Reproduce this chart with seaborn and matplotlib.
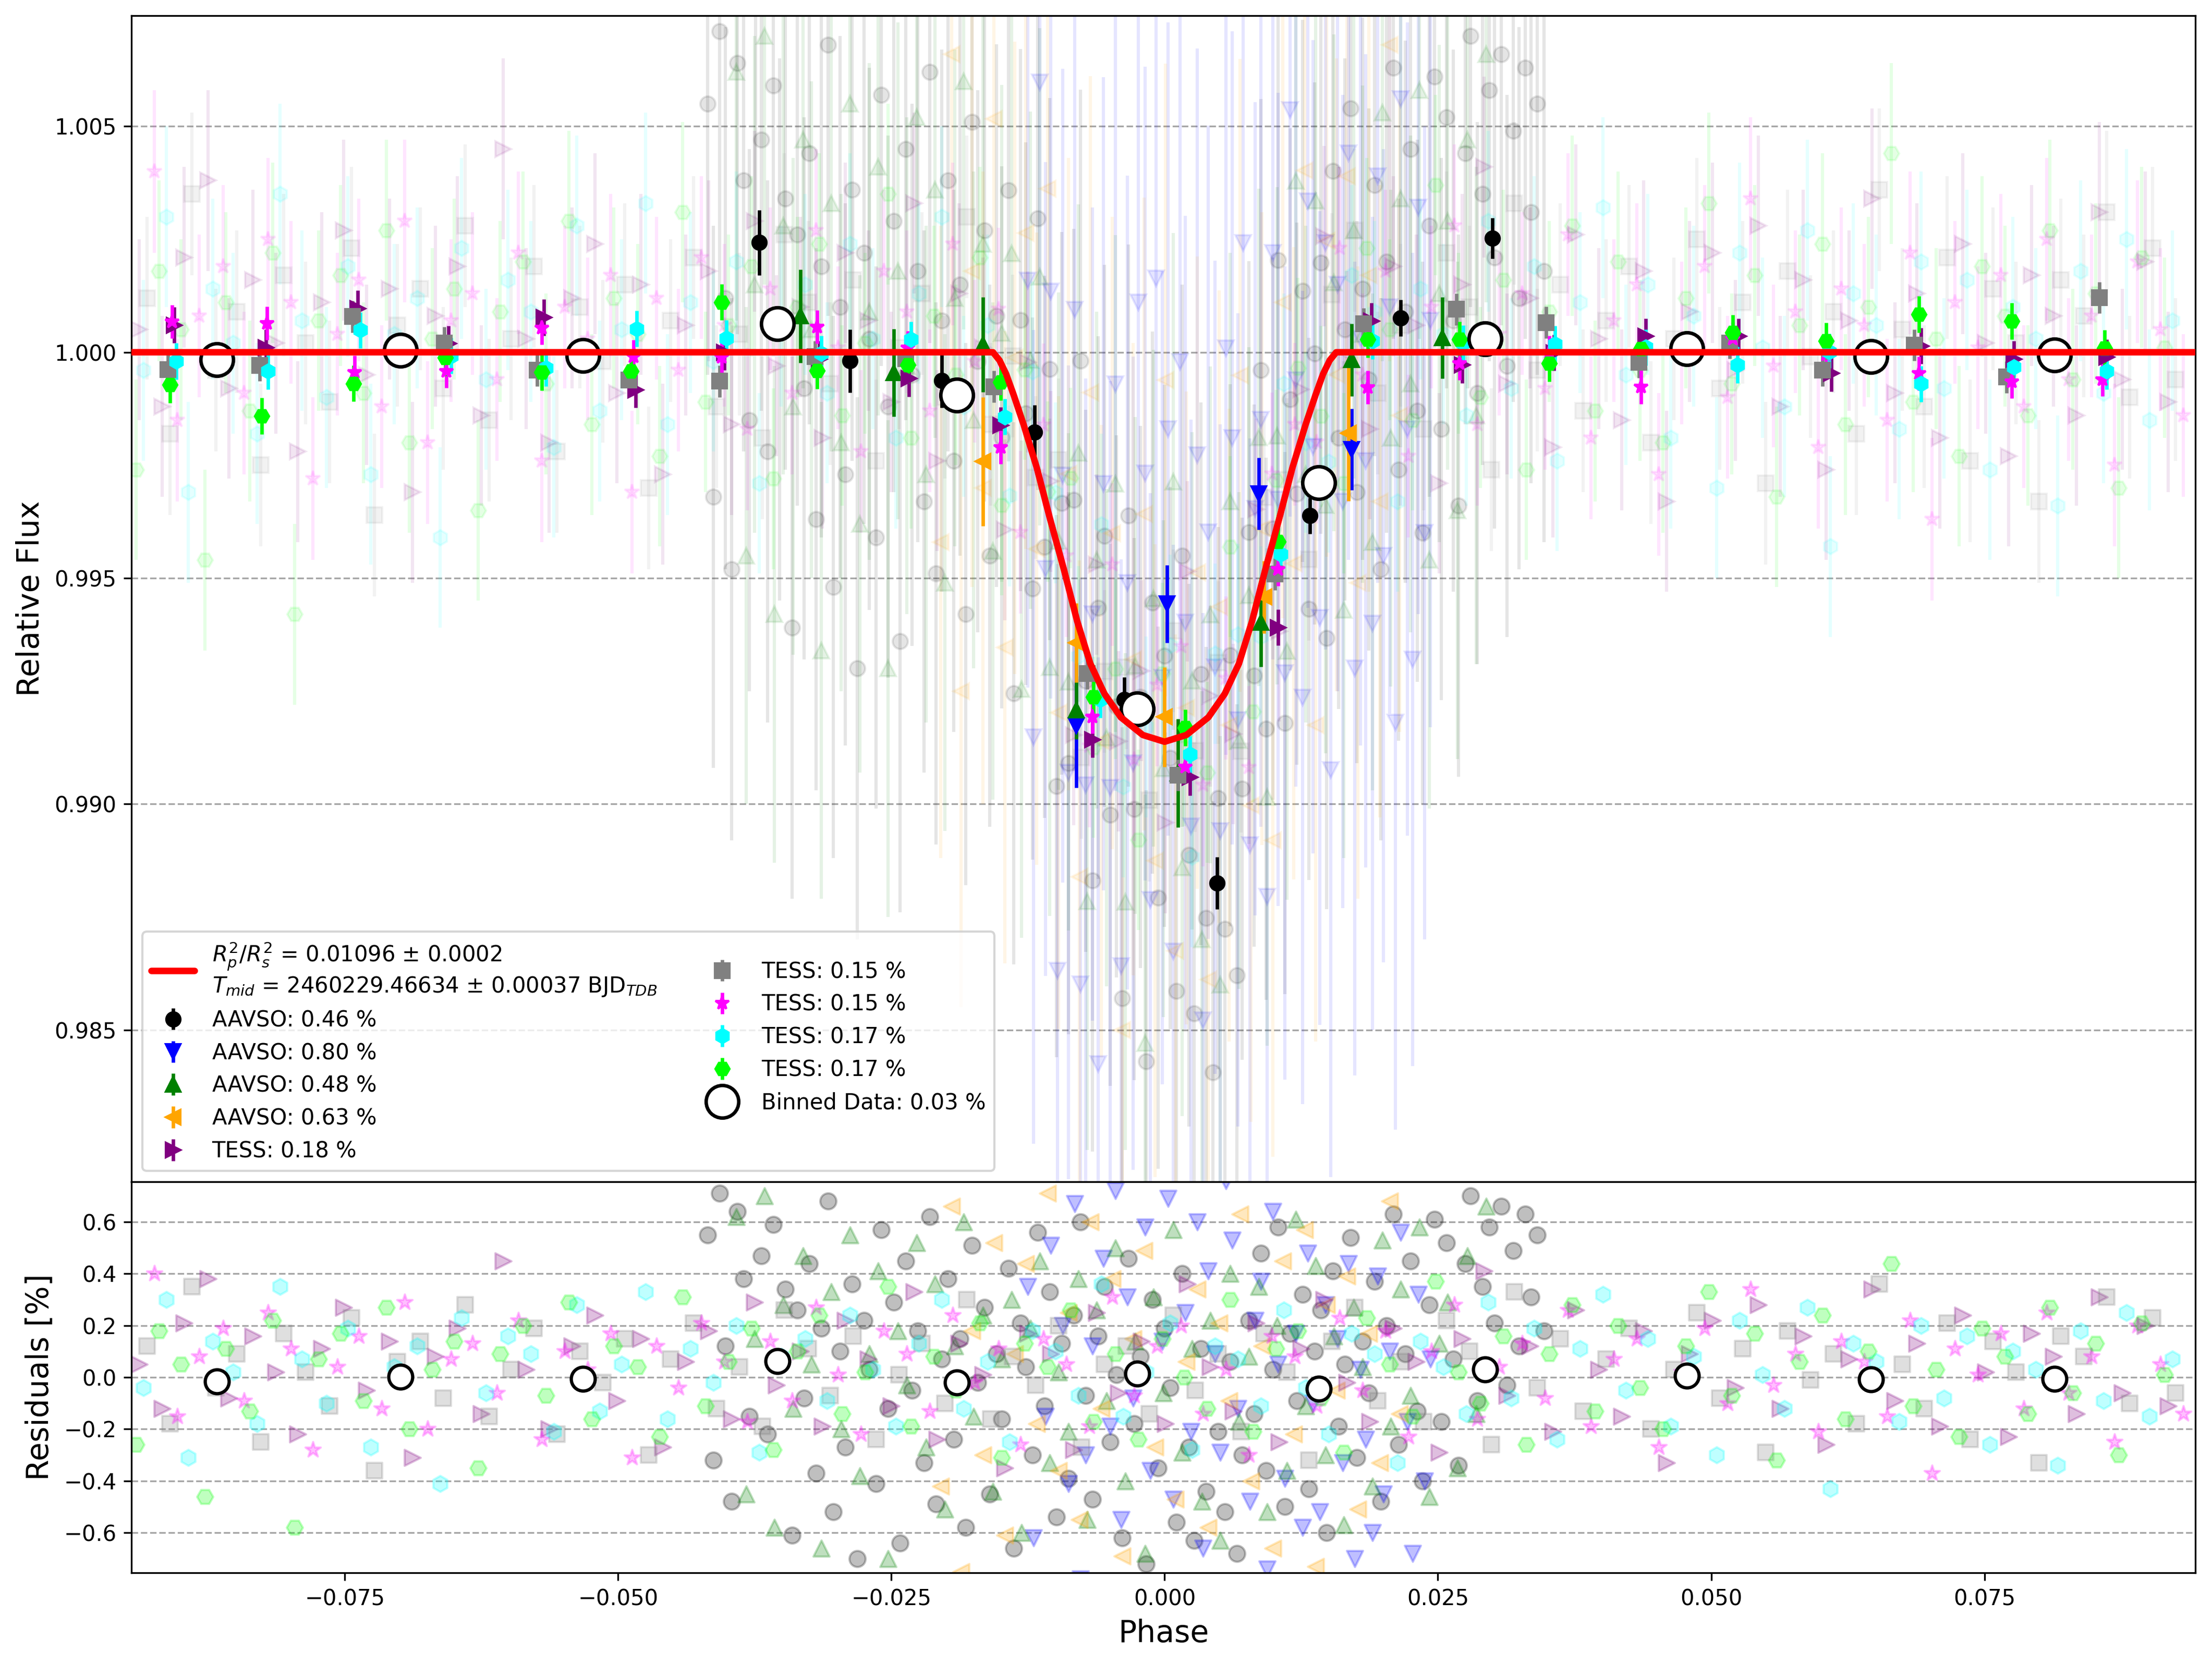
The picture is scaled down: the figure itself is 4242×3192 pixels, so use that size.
import numpy as np
import pandas as pd
import matplotlib
matplotlib.use("Agg")
import matplotlib.pyplot as plt
import seaborn as sns

# ---------------- model curve ----------------
model_phase = [-0.0945, -0.0157, -0.0151, -0.0145, -0.0138, -0.0129, -0.0117, -0.0105, -0.0092,
               -0.0080, -0.0068, -0.0055, -0.0040, -0.0020, 0.0000, 0.0020, 0.0040, 0.0055,
               0.0068, 0.0080, 0.0092, 0.0105, 0.0117, 0.0129, 0.0138, 0.0145, 0.0151, 0.0157, 0.0945]
model_flux = [1.00000, 1.00000, 0.99982, 0.99952, 0.99905, 0.99840, 0.99745, 0.99633, 0.99518,
              0.99405, 0.99311, 0.99244, 0.99192, 0.99153, 0.99138, 0.99153, 0.99192, 0.99244,
              0.99311, 0.99405, 0.99518, 0.99633, 0.99745, 0.99840, 0.99905, 0.99952, 0.99982,
              1.00000, 1.00000]
model_label = ("$R^2_p/R^2_s$ = 0.01096 ± 0.0002\n"
               "$T_{mid}$ = 2460229.46634 ± 0.00037 BJD$_{TDB}$")

# ---------------- overall binned data ----------------
bin_phase = [-0.0867, -0.0699, -0.0532, -0.0354, -0.0190, -0.0025, 0.0141, 0.0293, 0.0478, 0.0646, 0.0814]
bin_flux = [0.99984, 1.00004, 0.99993, 1.00063, 0.99905, 0.99210, 0.99711, 1.00030, 1.00008, 0.99990, 0.99994]
bin_resid = [-0.016, 0.002, -0.006, 0.063, -0.021, 0.014, -0.044, 0.031, 0.007, -0.008, -0.005]
bin_label = "Binned Data: 0.03 %"

# ---------------- per-dataset binned points (bold) ----------------
aavso1_bph = [-0.0371, -0.0288, -0.0204, -0.0119, -0.0037, 0.0048, 0.0133, 0.0216, 0.0300]
aavso1_bfl = [1.00243, 0.99981, 0.99937, 0.99823, 0.99231, 0.98825, 0.99638, 1.00076, 1.00252]
aavso1_ber = [0.00072, 0.00070, 0.00060, 0.00060, 0.00050, 0.00058, 0.00040, 0.00040, 0.00045]

aavso2_bph = [-0.0081, 0.0002, 0.0086, 0.0171]
aavso2_bfl = [0.99174, 0.99443, 0.99687, 0.99785]
aavso2_ber = [0.00138, 0.00086, 0.00080, 0.00090]

aavso3_bph = [-0.0333, -0.0248, -0.0166, -0.0081, 0.0012, 0.0088, 0.0171, 0.0254]
aavso3_bfl = [1.00080, 0.99955, 1.00017, 0.99208, 0.99069, 0.99402, 0.99983, 1.00032]
aavso3_ber = [0.00103, 0.00097, 0.00105, 0.00064, 0.00120, 0.00098, 0.00080, 0.00090]

aavso4_bph = [-0.0166, -0.0081, 0.0000, 0.0091, 0.0168]
aavso4_bfl = [0.99758, 0.99357, 0.99193, 0.99458, 0.99821]
aavso4_ber = [0.00143, 0.00088, 0.00110, 0.00080, 0.00150]

tess1_bph = [-0.0906, -0.0822, -0.0738, -0.0655, -0.0568, -0.0484, -0.0403, -0.0316, -0.0234, -0.0150, -0.0066,
             0.0023, 0.0104, 0.0189, 0.0272, 0.0356, 0.0440, 0.0525, 0.0610, 0.0692, 0.0777, 0.0862]
tess1_bfl = [1.00060, 1.00010, 1.00097, 1.00019, 1.00077, 0.99917, 1.00000, 0.99985, 0.99942, 0.99838, 0.99143,
             0.99059, 0.99391, 1.00069, 0.99972, 0.99999, 1.00035, 1.00035, 0.99953, 1.00014, 0.99985, 0.99989]
tess1_ber = 0.00040

tess2_bph = [-0.0912, -0.0828, -0.0743, -0.0659, -0.0574, -0.0490, -0.0407, -0.0320, -0.0237, -0.0156, -0.0071,
             0.0012, 0.0101, 0.0182, 0.0267, 0.0349, 0.0434, 0.0517, 0.0602, 0.0686, 0.0770, 0.0855]
tess2_bfl = [0.99962, 0.99971, 1.00079, 1.00021, 0.99960, 0.99939, 0.99936, 0.99990, 0.99986, 0.99924, 0.99289,
             0.99064, 0.99509, 1.00063, 1.00095, 1.00066, 0.99978, 1.00021, 0.99960, 1.00016, 0.99945, 1.00121]
tess2_ber = 0.00035

tess3_bph = [-0.0908, -0.0821, -0.0741, -0.0657, -0.0570, -0.0486, -0.0405, -0.0318, -0.0235, -0.0150, -0.0066,
             0.0019, 0.0104, 0.0186, 0.0270, 0.0352, 0.0436, 0.0520, 0.0605, 0.0690, 0.0775, 0.0858]
tess3_bfl = [1.00068, 1.00064, 0.99956, 0.99958, 1.00054, 0.99990, 0.99989, 1.00056, 1.00010, 0.99790, 0.99193,
             0.99083, 0.99520, 0.99922, 0.99976, 1.00000, 0.99923, 1.00030, 0.99995, 0.99953, 0.99935, 0.99940]
tess3_ber = 0.00037

tess4_bph = [-0.0904, -0.0820, -0.0736, -0.0653, -0.0566, -0.0483, -0.0401, -0.0314, -0.0232, -0.0146, -0.0059,
             0.0023, 0.0106, 0.0190, 0.0273, 0.0357, 0.0440, 0.0524, 0.0608, 0.0692, 0.0777, 0.0862]
tess4_bfl = [0.99980, 0.99958, 1.00049, 0.99992, 0.99965, 1.00052, 1.00031, 0.99997, 1.00028, 0.99857, 0.99231,
             0.99110, 0.99553, 1.00025, 1.00020, 1.00018, 1.00011, 0.99972, 1.00001, 0.99930, 0.99967, 0.99958]
tess4_ber = 0.00040

tess5_bph = [-0.0910, -0.0826, -0.0742, -0.0658, -0.0570, -0.0488, -0.0405, -0.0318, -0.0235, -0.0150, -0.0065,
             0.0019, 0.0104, 0.0186, 0.0270, 0.0352, 0.0436, 0.0520, 0.0605, 0.0690, 0.0775, 0.0860]
tess5_bfl = [0.99928, 0.99859, 0.99931, 0.99988, 0.99956, 0.99958, 1.00111, 0.99959, 0.99972, 0.99934, 0.99237,
             0.99169, 0.99581, 1.00028, 1.00028, 0.99975, 1.00008, 1.00043, 1.00025, 1.00084, 1.00069, 1.00009]
tess5_ber = 0.00040

# ---------------- raw points: phase and residual [%] ----------------
aavso1_ph = [-0.0418,-0.0413,-0.0407,-0.0402,-0.0396,-0.0391,-0.0385,-0.0380,-0.0374,-0.0369,
             -0.0363,-0.0358,-0.0352,-0.0347,-0.0341,-0.0336,-0.0330,-0.0325,-0.0319,-0.0314,
             -0.0308,-0.0303,-0.0297,-0.0292,-0.0286,-0.0281,-0.0275,-0.0270,-0.0264,-0.0259,
             -0.0253,-0.0248,-0.0242,-0.0237,-0.0231,-0.0226,-0.0220,-0.0215,-0.0209,-0.0204,
             -0.0198,-0.0193,-0.0187,-0.0182,-0.0176,-0.0171,-0.0165,-0.0160,-0.0154,-0.0149,
             -0.0143,-0.0138,-0.0132,-0.0127,-0.0121,-0.0116,-0.0110,-0.0105,-0.0099,-0.0094,
             -0.0088,-0.0083,-0.0077,-0.0072,-0.0066,-0.0061,-0.0055,-0.0050,-0.0044,-0.0039,
             -0.0033,-0.0028,-0.0022,-0.0017,-0.0011,-0.0006,0.0000,0.0005,0.0011,0.0016,
             0.0022,0.0027,0.0033,0.0038,0.0044,0.0049,0.0055,0.0060,0.0066,0.0071,
             0.0077,0.0082,0.0088,0.0093,0.0099,0.0104,0.0110,0.0115,0.0121,0.0126,
             0.0132,0.0137,0.0143,0.0148,0.0154,0.0159,0.0165,0.0170,0.0176,0.0181,
             0.0187,0.0192,0.0198,0.0203,0.0209,0.0214,0.0220,0.0225,0.0231,0.0236,
             0.0242,0.0247,0.0253,0.0258,0.0264,0.0269,0.0275,0.0280,0.0286,0.0291,
             0.0297,0.0302,0.0308,0.0313,0.0319,0.0324,0.0330,0.0335,0.0341,0.0347]
aavso1_res = [0.55,-0.32,0.71,0.12,-0.48,0.64,0.38,-0.15,0.83,0.47,
              -0.22,0.59,0.05,0.34,-0.61,0.26,-0.08,0.44,-0.37,0.19,
              0.68,-0.52,0.10,-0.27,0.36,-0.70,0.22,0.03,-0.41,0.57,
              -0.12,0.29,-0.64,0.45,-0.05,0.18,-0.33,0.62,-0.49,0.07,
              0.38,-0.24,0.15,-0.58,0.51,-0.02,0.27,-0.45,0.09,-0.16,
              0.42,-0.66,0.21,0.04,-0.30,0.56,-0.11,0.33,-0.54,0.13,
              -0.39,0.24,0.60,-0.07,-0.47,0.16,0.35,-0.25,0.01,-0.62,
              0.46,-0.18,0.08,-0.72,0.30,-0.35,0.19,-0.04,-0.56,0.40,
              -0.27,-0.63,0.11,-0.44,-0.80,-0.21,-0.52,0.06,-0.68,-0.30,
              0.22,-0.14,0.48,-0.36,0.03,0.58,-0.50,0.17,-0.09,0.32,
              -0.43,0.10,0.26,-0.60,0.41,-0.19,0.05,0.54,-0.31,0.14,
              -0.06,0.37,-0.48,0.20,0.63,-0.26,0.09,0.45,-0.13,-0.40,
              0.28,0.61,-0.17,0.52,0.07,-0.34,0.44,0.70,-0.09,0.35,
              0.58,0.21,0.66,-0.03,0.49,0.12,0.63,0.31,0.55,0.18]
aavso1_err = 0.0060

aavso2_ph = [-0.0125,-0.0120,-0.0114,-0.0109,-0.0104,-0.0098,-0.0093,-0.0088,-0.0082,-0.0077,
             -0.0072,-0.0066,-0.0061,-0.0056,-0.0050,-0.0045,-0.0040,-0.0034,-0.0029,-0.0024,
             -0.0018,-0.0013,-0.0008,-0.0002,0.0003,0.0008,0.0014,0.0019,0.0024,0.0030,
             0.0035,0.0040,0.0046,0.0051,0.0056,0.0062,0.0067,0.0072,0.0078,0.0083,
             0.0088,0.0094,0.0099,0.0104,0.0110,0.0115,0.0120,0.0126,0.0131,0.0136,
             0.0142,0.0147,0.0152,0.0158,0.0163,0.0168,0.0174,0.0179,0.0184,0.0190,
             0.0195,0.0200,0.0206,0.0211,0.0216,0.0222,0.0227,0.0232,0.0238,0.0243]
aavso2_res = [0.35,-0.62,0.88,-0.15,0.51,-0.94,0.20,-0.41,0.67,-0.78,
              -0.30,0.12,-0.85,0.46,-0.19,0.72,-0.55,0.31,-0.08,0.95,
              0.58,-0.36,1.02,0.14,0.69,-0.47,0.83,0.25,-0.21,0.60,
              -0.66,0.41,0.09,-0.29,0.76,0.53,-0.12,0.90,-0.48,0.22,
              0.37,-0.74,0.64,0.05,-0.39,0.81,0.17,-0.58,0.48,-0.10,
              -0.52,0.28,-0.91,0.15,-0.33,0.44,-0.70,0.03,-0.24,-0.60,
              0.39,-0.45,0.10,-0.82,0.56,-0.17,-0.68,0.32,-0.40,0.07]
aavso2_err = 0.0090

aavso3_ph = [-0.0392,-0.0383,-0.0375,-0.0366,-0.0357,-0.0349,-0.0340,-0.0331,-0.0323,-0.0314,
             -0.0305,-0.0296,-0.0288,-0.0279,-0.0270,-0.0262,-0.0253,-0.0244,-0.0236,-0.0227,
             -0.0218,-0.0210,-0.0201,-0.0192,-0.0184,-0.0175,-0.0166,-0.0157,-0.0149,-0.0140,
             -0.0131,-0.0123,-0.0114,-0.0105,-0.0097,-0.0088,-0.0079,-0.0071,-0.0062,-0.0053,
             -0.0045,-0.0036,-0.0027,-0.0018,-0.0010,-0.0001,0.0008,0.0016,0.0025,0.0034,
             0.0042,0.0051,0.0060,0.0068,0.0077,0.0086,0.0094,0.0103,0.0112,0.0120,
             0.0129,0.0138,0.0147,0.0155,0.0164,0.0173,0.0181,0.0190,0.0199,0.0207,
             0.0216,0.0225,0.0233,0.0242,0.0251,0.0259,0.0268,0.0277,0.0285,0.0294]
aavso3_res = [0.62,-0.45,0.15,0.70,-0.58,0.28,-0.12,0.47,0.05,-0.66,
              0.33,-0.20,0.55,-0.38,0.09,0.41,-0.70,0.18,-0.03,0.52,
              -0.27,0.36,-0.51,0.12,0.60,-0.15,0.24,-0.44,0.07,0.30,
              -0.60,0.19,0.45,-0.33,0.02,-0.21,0.38,-0.55,0.26,-0.09,
              0.50,-0.40,0.14,-0.68,0.31,-0.06,0.57,-0.29,0.11,-0.48,
              0.22,-0.63,0.40,-0.17,0.08,0.35,-0.52,0.20,-0.36,0.61,
              -0.11,0.43,-0.30,0.16,-0.57,0.27,0.04,-0.42,0.53,-0.19,
              0.34,-0.07,0.58,-0.46,0.13,0.29,-0.35,0.47,-0.14,0.66]
aavso3_err = 0.0055

aavso4_ph = [-0.0205,-0.0195,-0.0186,-0.0176,-0.0166,-0.0156,-0.0146,-0.0137,-0.0127,-0.0117,
             -0.0107,-0.0097,-0.0088,-0.0078,-0.0068,-0.0058,-0.0048,-0.0039,-0.0029,-0.0019,
             -0.0009,0.0001,0.0010,0.0020,0.0030,0.0040,0.0050,0.0059,0.0069,0.0079,
             0.0089,0.0099,0.0108,0.0118,0.0128,0.0138,0.0148,0.0157,0.0167,0.0177,
             0.0187,0.0197,0.0206,0.0215]
aavso4_res = [-0.42,0.66,-0.75,0.18,-0.30,0.52,-0.61,0.09,0.44,-0.18,
              0.71,-0.36,0.25,-0.55,0.60,-0.12,0.38,-0.69,0.15,0.49,
              -0.27,0.80,-0.47,0.06,0.34,-0.58,0.21,-0.09,0.63,-0.40,
              0.12,-0.66,0.45,-0.22,0.57,-0.73,0.28,-0.05,0.39,-0.51,
              0.17,-0.33,0.68,-0.14]
aavso4_err = 0.0070

tess1_ph = [-0.0938,-0.0917,-0.0897,-0.0875,-0.0856,-0.0834,-0.0813,-0.0793,-0.0771,-0.0751,
            -0.0730,-0.0709,-0.0688,-0.0667,-0.0647,-0.0625,-0.0605,-0.0584,-0.0563,-0.0542,
            -0.0521,-0.0501,-0.0479,-0.0459,-0.0438,-0.0417,-0.0396,-0.0375,-0.0355,-0.0333,
            -0.0313,-0.0292,-0.0271,-0.0250,-0.0229,-0.0208,-0.0188,-0.0166,-0.0146,-0.0125,
            -0.0104,-0.0083,-0.0062,-0.0042,-0.0021,0.0001,0.0021,0.0042,0.0063,0.0084,
            0.0105,0.0125,0.0146,0.0167,0.0188,0.0209,0.0230,0.0251,0.0272,0.0292,
            0.0313,0.0334,0.0355,0.0376,0.0397,0.0418,0.0438,0.0459,0.0480,0.0501,
            0.0522,0.0543,0.0563,0.0584,0.0605,0.0626,0.0647,0.0668,0.0688,0.0709,
            0.0730,0.0751,0.0772,0.0793,0.0813,0.0834,0.0855,0.0876,0.0897,0.0918]
tess1_res = [0.05,-0.12,0.21,0.38,-0.08,0.16,0.02,-0.22,0.11,0.27,
             -0.05,0.14,-0.31,0.08,0.19,-0.14,0.45,0.03,-0.20,0.12,
             0.24,-0.09,0.15,-0.27,0.06,0.18,-0.16,0.29,-0.03,0.10,
             -0.19,0.22,0.07,-0.11,0.33,-0.24,0.13,0.01,-0.35,0.17,
             0.09,-0.28,0.25,-0.06,0.14,-0.18,0.36,0.04,-0.13,0.21,
             -0.25,0.11,0.30,-0.02,-0.17,0.19,0.06,-0.29,0.15,0.41,
             -0.07,0.12,-0.21,0.26,0.03,-0.15,0.18,-0.33,0.09,0.22,
             -0.04,0.28,-0.12,0.16,-0.26,0.07,0.34,-0.09,0.13,-0.19,
             0.24,0.02,-0.23,0.17,0.08,-0.14,0.31,-0.06,0.20,-0.11]
tess1_err = 0.0020

tess2_ph = [-0.0931,-0.0910,-0.0890,-0.0868,-0.0849,-0.0827,-0.0806,-0.0786,-0.0764,-0.0744,
            -0.0723,-0.0702,-0.0681,-0.0660,-0.0640,-0.0618,-0.0598,-0.0577,-0.0556,-0.0535,
            -0.0514,-0.0494,-0.0472,-0.0452,-0.0431,-0.0410,-0.0389,-0.0368,-0.0348,-0.0326,
            -0.0306,-0.0285,-0.0264,-0.0243,-0.0222,-0.0201,-0.0181,-0.0159,-0.0139,-0.0118,
            -0.0097,-0.0076,-0.0055,-0.0035,-0.0014,0.0008,0.0028,0.0049,0.0070,0.0091,
            0.0112,0.0132,0.0153,0.0174,0.0195,0.0216,0.0237,0.0258,0.0279,0.0299,
            0.0320,0.0341,0.0362,0.0383,0.0404,0.0425,0.0445,0.0466,0.0487,0.0508,
            0.0529,0.0550,0.0570,0.0591,0.0612,0.0633,0.0654,0.0675,0.0695,0.0716,
            0.0737,0.0758,0.0779,0.0800,0.0820,0.0841,0.0862,0.0883,0.0904,0.0925]
tess2_res = [0.12,-0.18,0.35,-0.04,0.09,-0.25,0.17,0.02,-0.11,0.23,
             -0.36,0.06,0.14,-0.08,0.28,-0.15,0.03,0.19,-0.22,0.10,
             -0.02,0.15,-0.30,0.07,0.21,-0.12,0.04,-0.19,0.26,0.11,
             -0.07,0.16,-0.24,0.01,0.13,-0.10,0.30,-0.16,0.08,-0.03,
             0.20,-0.27,0.05,0.12,-0.14,0.24,-0.05,0.09,-0.21,0.17,
             0.02,-0.32,0.14,0.27,-0.09,0.06,-0.17,0.22,0.10,-0.26,
             0.33,-0.04,0.15,-0.13,0.07,0.19,-0.20,0.03,0.25,-0.08,
             0.11,-0.29,0.18,-0.01,0.09,-0.18,0.36,0.05,-0.12,0.21,
             -0.24,0.14,0.02,-0.33,0.16,0.08,0.31,-0.10,0.23,-0.06]
tess2_err = 0.0018

tess3_ph = [-0.0924,-0.0903,-0.0883,-0.0861,-0.0842,-0.0820,-0.0799,-0.0779,-0.0757,-0.0737,
            -0.0716,-0.0695,-0.0674,-0.0653,-0.0633,-0.0611,-0.0591,-0.0570,-0.0549,-0.0528,
            -0.0507,-0.0487,-0.0465,-0.0445,-0.0424,-0.0403,-0.0382,-0.0361,-0.0341,-0.0319,
            -0.0299,-0.0278,-0.0257,-0.0236,-0.0215,-0.0194,-0.0174,-0.0152,-0.0132,-0.0111,
            -0.0090,-0.0069,-0.0048,-0.0028,-0.0007,0.0015,0.0035,0.0056,0.0077,0.0098,
            0.0119,0.0139,0.0160,0.0181,0.0202,0.0223,0.0244,0.0265,0.0286,0.0306,
            0.0327,0.0348,0.0369,0.0390,0.0411,0.0432,0.0452,0.0473,0.0494,0.0515,
            0.0536,0.0557,0.0577,0.0598,0.0619,0.0640,0.0661,0.0682,0.0702,0.0723,
            0.0744,0.0765,0.0786,0.0807,0.0827,0.0848,0.0869,0.0890,0.0911,0.0932]
tess3_res = [0.40,-0.15,0.08,0.19,-0.09,0.25,0.11,-0.28,0.04,0.16,
             -0.12,0.29,-0.20,0.07,0.13,-0.06,0.22,-0.24,0.10,0.03,
             0.17,-0.31,0.12,-0.04,0.21,0.06,-0.17,0.14,-0.09,0.27,
             0.01,-0.22,0.18,0.09,-0.13,0.24,-0.02,0.11,-0.26,0.15,
             0.05,-0.19,0.31,-0.07,0.12,0.20,-0.14,0.03,-0.30,0.16,
             0.08,-0.11,0.23,-0.05,0.18,-0.23,0.10,0.28,-0.16,0.04,
             0.13,-0.08,0.26,-0.19,0.07,0.15,-0.27,0.02,0.19,-0.10,
             0.34,-0.03,0.09,-0.21,0.14,0.06,-0.15,0.22,-0.37,0.11,
             0.01,0.17,-0.12,0.25,-0.06,0.08,-0.25,0.20,0.05,-0.14]
tess3_err = 0.0018

tess4_ph = [-0.0934,-0.0913,-0.0893,-0.0871,-0.0852,-0.0830,-0.0809,-0.0789,-0.0767,-0.0747,
            -0.0726,-0.0705,-0.0684,-0.0663,-0.0643,-0.0621,-0.0601,-0.0580,-0.0559,-0.0538,
            -0.0517,-0.0497,-0.0475,-0.0455,-0.0434,-0.0413,-0.0392,-0.0371,-0.0351,-0.0329,
            -0.0309,-0.0288,-0.0267,-0.0246,-0.0225,-0.0204,-0.0184,-0.0162,-0.0142,-0.0121,
            -0.0100,-0.0079,-0.0058,-0.0038,-0.0017,0.0005,0.0025,0.0046,0.0067,0.0088,
            0.0109,0.0129,0.0150,0.0171,0.0192,0.0213,0.0234,0.0255,0.0276,0.0296,
            0.0317,0.0338,0.0359,0.0380,0.0401,0.0422,0.0442,0.0463,0.0484,0.0505,
            0.0526,0.0547,0.0567,0.0588,0.0609,0.0630,0.0651,0.0672,0.0692,0.0713,
            0.0734,0.0755,0.0776,0.0797,0.0817,0.0838,0.0859,0.0880,0.0901,0.0922]
tess4_res = [-0.04,0.30,-0.31,0.14,0.02,-0.18,0.35,0.07,-0.10,0.19,
             -0.27,0.04,0.12,-0.41,0.23,-0.06,0.16,0.09,-0.21,0.28,
             -0.13,0.05,0.33,-0.16,0.11,-0.02,0.20,-0.29,0.08,0.15,
             -0.09,0.24,0.03,-0.19,0.13,0.30,-0.12,0.06,-0.25,0.18,
             0.10,-0.07,0.36,-0.15,0.02,0.21,-0.28,0.12,0.07,-0.11,
             0.26,-0.04,-0.22,0.17,0.09,-0.33,0.14,0.04,-0.14,0.29,
             -0.08,0.19,-0.24,0.11,0.32,-0.05,0.15,-0.19,0.08,-0.30,
             0.22,0.01,-0.12,0.27,-0.43,0.13,0.06,-0.17,0.20,-0.08,
             0.16,-0.26,0.10,0.03,-0.34,0.18,-0.09,0.25,-0.15,0.07]
tess4_err = 0.0020

tess5_ph = [-0.0941,-0.0920,-0.0900,-0.0878,-0.0859,-0.0837,-0.0816,-0.0796,-0.0774,-0.0754,
            -0.0733,-0.0712,-0.0691,-0.0670,-0.0650,-0.0628,-0.0608,-0.0587,-0.0566,-0.0545,
            -0.0524,-0.0504,-0.0482,-0.0462,-0.0441,-0.0420,-0.0399,-0.0378,-0.0358,-0.0336,
            -0.0316,-0.0295,-0.0274,-0.0253,-0.0232,-0.0211,-0.0191,-0.0169,-0.0149,-0.0128,
            -0.0107,-0.0086,-0.0065,-0.0045,-0.0024,-0.0002,0.0018,0.0039,0.0060,0.0081,
            0.0102,0.0122,0.0143,0.0164,0.0185,0.0206,0.0227,0.0248,0.0269,0.0289,
            0.0310,0.0331,0.0352,0.0373,0.0394,0.0415,0.0435,0.0456,0.0477,0.0498,
            0.0519,0.0540,0.0560,0.0581,0.0602,0.0623,0.0644,0.0665,0.0685,0.0706,
            0.0727,0.0748,0.0769,0.0790,0.0810,0.0831,0.0852,0.0873,0.0894,0.0915]
tess5_res = [-0.26,0.18,0.05,-0.46,0.11,-0.13,0.22,-0.58,0.07,0.17,
             -0.09,0.27,-0.20,0.03,0.14,-0.35,0.09,0.20,-0.07,0.29,
             -0.16,0.12,0.04,-0.23,0.31,-0.11,0.06,0.19,-0.28,0.10,
             0.24,-0.14,0.02,0.35,-0.19,0.08,-0.05,0.21,-0.31,0.13,
             0.04,0.26,-0.17,0.09,-0.24,0.15,0.00,-0.12,0.30,-0.21,
             0.11,0.18,-0.08,-0.29,0.23,0.05,-0.15,0.37,0.02,-0.10,
             0.16,-0.26,0.09,0.28,-0.13,0.20,-0.04,-0.20,0.12,0.33,
             -0.07,0.17,-0.32,0.06,0.24,-0.16,0.10,0.44,-0.11,0.03,
             -0.23,0.19,0.08,-0.14,0.27,-0.06,0.13,-0.30,0.21,0.01]
tess5_err = 0.0020

# ---------------- dataset descriptions ----------------
datasets = [
    dict(label="AAVSO: 0.46 %", color="black",   marker="o", ph=aavso1_ph, res=aavso1_res, err=aavso1_err,
         bph=aavso1_bph, bfl=aavso1_bfl, ber=aavso1_ber),
    dict(label="AAVSO: 0.80 %", color="blue",    marker="v", ph=aavso2_ph, res=aavso2_res, err=aavso2_err,
         bph=aavso2_bph, bfl=aavso2_bfl, ber=aavso2_ber),
    dict(label="AAVSO: 0.48 %", color="green",   marker="^", ph=aavso3_ph, res=aavso3_res, err=aavso3_err,
         bph=aavso3_bph, bfl=aavso3_bfl, ber=aavso3_ber),
    dict(label="AAVSO: 0.63 %", color="orange",  marker="<", ph=aavso4_ph, res=aavso4_res, err=aavso4_err,
         bph=aavso4_bph, bfl=aavso4_bfl, ber=aavso4_ber),
    dict(label="TESS: 0.18 %",  color="purple",  marker=">", ph=tess1_ph, res=tess1_res, err=tess1_err,
         bph=tess1_bph, bfl=tess1_bfl, ber=tess1_ber),
    dict(label="TESS: 0.15 %",  color="gray",    marker="s", ph=tess2_ph, res=tess2_res, err=tess2_err,
         bph=tess2_bph, bfl=tess2_bfl, ber=tess2_ber),
    dict(label="TESS: 0.15 %",  color="magenta", marker="*", ph=tess3_ph, res=tess3_res, err=tess3_err,
         bph=tess3_bph, bfl=tess3_bfl, ber=tess3_ber),
    dict(label="TESS: 0.17 %",  color="cyan",    marker="h", ph=tess4_ph, res=tess4_res, err=tess4_err,
         bph=tess4_bph, bfl=tess4_bfl, ber=tess4_ber),
    dict(label="TESS: 0.17 %",  color="lime",    marker="H", ph=tess5_ph, res=tess5_res, err=tess5_err,
         bph=tess5_bph, bfl=tess5_bfl, ber=tess5_ber),
]

# ---------------- style ----------------
sns.set_style("ticks", rc={"axes.edgecolor": "black", "xtick.color": "black", "ytick.color": "black",
                           "text.color": "black", "axes.labelcolor": "black"})
plt.rcParams["font.family"] = ["DejaVu Sans"]
plt.rcParams["axes.formatter.useoffset"] = False
plt.rcParams["xtick.labelsize"] = 10
plt.rcParams["ytick.labelsize"] = 10

fig = plt.figure(figsize=(14.14, 10.64), dpi=300)
gs = fig.add_gridspec(2, 1, height_ratios=[2237, 750], hspace=0,
                      left=0.0595, right=0.9925, top=0.9906, bottom=0.0548)
ax = fig.add_subplot(gs[0])
ax2 = fig.add_subplot(gs[1], sharex=ax)

handles = []
labels = []

# model line (drawn above all markers)
mline, = ax.plot(model_phase, model_flux, color="red", lw=3, zorder=10)

for d in datasets:
    ph = np.array(d["ph"])
    res = np.array(d["res"])
    flux = np.interp(ph, model_phase, model_flux) + res / 100.0
    # faint raw data with error bars
    ax.errorbar(ph, flux, yerr=d["err"], fmt=d["marker"], color=d["color"], alpha=0.1,
                ms=7, elinewidth=1.5, zorder=1)
    # per-dataset binned points
    h = ax.errorbar(d["bph"], d["bfl"], yerr=d["ber"], fmt=d["marker"], color=d["color"],
                    ms=6.5, elinewidth=1.6, capsize=0, zorder=4)
    handles.append(h)
    labels.append(d["label"])
    # residuals
    df = pd.DataFrame({"phase": ph, "res": res})
    sns.scatterplot(data=df, x="phase", y="res", marker=d["marker"], color=d["color"],
                    edgecolor=d["color"], linewidth=1, alpha=0.25, s=55, ax=ax2,
                    legend=False, zorder=2)

bh, = ax.plot(bin_phase, bin_flux, "o", mfc="white", mec="black", ms=15, mew=1.6, zorder=6)
ax2.plot(bin_phase, bin_resid, "o", mfc="white", mec="black", ms=11, mew=1.5, zorder=6)

all_handles = [mline] + handles + [bh]
all_labels = [model_label] + labels + [bin_label]
ax.legend(all_handles, all_labels, loc="lower left", ncol=2, fontsize=10)

# axes formatting
ax.set_xlim(-0.0945, 0.0943)
ax.set_ylim(0.98164, 1.00745)
ax.set_yticks([0.985, 0.990, 0.995, 1.000, 1.005])
ax.set_ylabel("Relative Flux", fontsize=14)
ax.tick_params(axis="x", bottom=False, labelbottom=False)
ax.grid(axis="y", ls="--", color="gray", alpha=0.7, lw=0.8)
ax.set_axisbelow(True)

ax2.set_ylim(-0.755, 0.755)
ax2.set_yticks([-0.6, -0.4, -0.2, 0.0, 0.2, 0.4, 0.6])
ax2.set_xticks([-0.075, -0.050, -0.025, 0.000, 0.025, 0.050, 0.075])
ax2.set_xlabel("Phase", fontsize=14)
ax2.set_ylabel("Residuals [%]", fontsize=14)
ax2.grid(axis="y", ls="--", color="gray", alpha=0.7, lw=0.8)
ax2.set_axisbelow(True)

for a in (ax, ax2):
    for s in a.spines.values():
        s.set_visible(True)
        s.set_color("black")

fig.savefig("out.png", dpi=300)
